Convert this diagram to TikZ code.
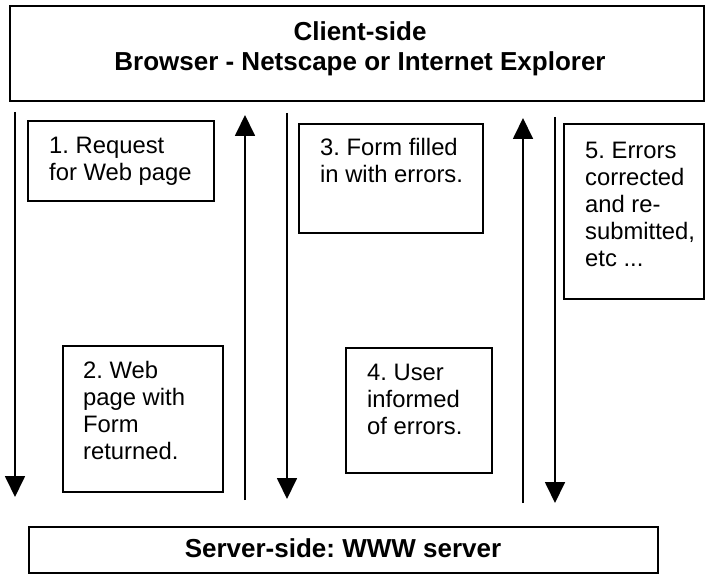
\documentclass[tikz,border=0pt]{standalone}
\usepackage{fontspec}
\setmainfont{Liberation Sans}
\usetikzlibrary{arrows.meta}
\frenchspacing

\begin{document}
\begin{tikzpicture}[x=1pt, y=1pt]
    % --- 样式定义 ---
    \tikzstyle{frame}=[draw, line width=1.6pt, inner sep=0pt, anchor=north west]
    \tikzstyle{title}=[font=\bfseries\fontsize{26}{30}\selectfont, align=center, inner sep=0pt]
    \tikzstyle{note}=[font=\fontsize{23.8}{27}\selectfont, align=left, inner sep=0pt, anchor=north west]
    \tikzstyle{msg}=[-{Triangle[width=20pt, length=21pt]}, line width=1.8pt]

    \useasboundingbox (0,0) rectangle (709,-577);

    % ====== 客户端 (Client) ======
    \node[frame, minimum width=694, minimum height=95] (client) at (9,-5) {};
    \node[title, anchor=north] (clienttxt) at (360,-21.5)
        {Client-side\\Browser - Netscape or Internet Explorer};

    % ====== 服务器 (Server) ======
    \node[frame, minimum width=629, minimum height=46] (server) at (28,-526) {};
    \node[title, anchor=base] (servertxt) at (343,-557) {Server-side: WWW server};

    % ====== 说明框 ======
    \node[frame, minimum width=186, minimum height=80] (box1) at (27,-120) {};
    \node[note] (txt1) at ([shift={(22,-16.5)}]box1.north west) {1. Request\\for Web page};

    \node[frame, minimum width=160, minimum height=146] (box2) at (62,-345) {};
    \node[note] (txt2) at ([shift={(21,-16.5)}]box2.north west) {2. Web\\page with\\Form\\returned.};

    \node[frame, minimum width=184, minimum height=109] (box3) at (298,-123) {};
    \node[note] (txt3) at ([shift={(22,-15)}]box3.north west) {3. Form filled\\in with errors.};

    \node[frame, minimum width=146, minimum height=125] (box4) at (345,-347) {};
    \node[note] (txt4) at ([shift={(22,-16.5)}]box4.north west) {4. User\\informed\\of errors.};

    \node[frame, minimum width=140, minimum height=175] (box5) at (563,-123) {};
    \node[note] (txt5) at ([shift={(22,-18.5)}]box5.north west) {5. Errors\\corrected\\and re-\\submitted,\\etc ...};

    % ====== 请求/应答箭头 ======
    \coordinate (a1s) at (15,-112);  \coordinate (a1e) at (15,-497);
    \coordinate (a2s) at (245,-500); \coordinate (a2e) at (245,-115);
    \coordinate (a3s) at (287,-113); \coordinate (a3e) at (287,-499);
    \coordinate (a4s) at (523,-503); \coordinate (a4e) at (523,-118);
    \coordinate (a5s) at (555,-117); \coordinate (a5e) at (555,-503);

    \draw[msg] (a1s) -- (a1e);
    \draw[msg] (a2s) -- (a2e);
    \draw[msg] (a3s) -- (a3e);
    \draw[msg] (a4s) -- (a4e);
    \draw[msg] (a5s) -- (a5e);

\end{tikzpicture}
\end{document}
